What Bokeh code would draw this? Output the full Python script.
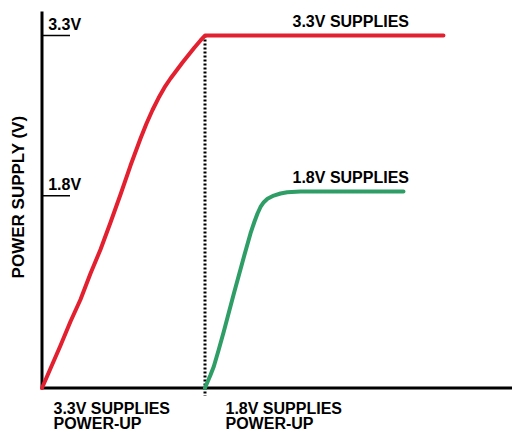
import math
from bokeh.plotting import figure
from bokeh.models import Range1d
from bokeh.core.properties import value
from bokeh.embed import file_html
from bokeh.resources import INLINE

# ---- data (time in arbitrary units, 1.0 = end of the 3.3V ramp; volts) ----
t_red = [0.0, 0.0521, 0.1135, 0.1748, 0.2362, 0.2975, 0.3589, 0.4202, 0.4816,
         0.5429, 0.6043, 0.6411, 0.6779, 0.7147, 0.7515, 0.7883, 0.8252,
         0.8620, 0.8988, 0.9356, 0.9724, 1.0, 2.463]
v_red = [0.0, 0.183, 0.398, 0.623, 0.829, 1.072, 1.297, 1.550, 1.812,
         2.083, 2.336, 2.477, 2.603, 2.715, 2.814, 2.898, 2.973,
         3.048, 3.118, 3.188, 3.254, 3.3, 3.3]

t_green = [1.0, 1.0153, 1.0337, 1.0540, 1.0828, 1.1153, 1.1767, 1.2380, 1.2791,
           1.3037, 1.3221, 1.3405, 1.3607, 1.3834, 1.4221, 1.4632, 1.5043,
           1.5859, 2.2178]
v_green = [0.0, 0.056, 0.122, 0.201, 0.351, 0.529, 0.882, 1.225, 1.447,
           1.559, 1.634, 1.695, 1.740, 1.772, 1.802, 1.821, 1.833,
           1.840, 1.840]

t_switch = 1.0
level_ticks = [3.3, 1.8]
level_labels = ["3.3V", "1.8V"]
series_labels = ["3.3V SUPPLIES", "1.8V SUPPLIES"]
series_label_t = [1.537, 1.537]
series_label_v = [3.3, 1.84]
phase_t = [0.0, 1.0]
phase_line1 = ["3.3V SUPPLIES", "1.8V SUPPLIES"]
phase_line2 = ["POWER-UP", "POWER-UP"]
y_title = "POWER SUPPLY (V)"

# ---- styling / layout ----
FONT = "Liberation Sans"
RED = "#e3202f"
GREEN = "#2e9e66"
W, H = 512, 432
PX_T = 163.0     # pixels per time unit
PX_V = 106.8     # pixels per volt
ORIGIN_X = 41.5  # canvas px of t=0
ORIGIN_Y = 387.5 # canvas px (from top) of V=0
AXIS_TOP = 11.0  # canvas px of top end of the voltage axis
BASE_FIX = 5.5   # baseline correction of the svg text renderer

x0 = -ORIGIN_X / PX_T
x1 = (W - ORIGIN_X) / PX_T
y0 = -(H - ORIGIN_Y) / PX_V
y1 = ORIGIN_Y / PX_V

p = figure(width=W, height=H, output_backend="svg", toolbar_location=None,
           x_range=Range1d(x0, x1), y_range=Range1d(y0, y1),
           x_axis_type=None, y_axis_type=None, min_border=0)
p.outline_line_color = None
p.grid.visible = False


def tx(px):
    return px / PX_T


def vy(px):
    return px / PX_V


# axes (L-shaped)
p.line([0, 0, x1], [vy(ORIGIN_Y - AXIS_TOP), 0, 0], line_color="black",
       line_width=3, line_join="miter")

# level ticks (inward)
p.segment(x0=[0] * len(level_ticks), y0=level_ticks,
          x1=[tx(28)] * len(level_ticks), y1=level_ticks,
          line_color="black", line_width=1.5)

# dotted boundary
p.line([t_switch, t_switch], [v_red[-1], -vy(8)], line_color="black",
       line_width=3, line_dash="2 2")

# curves
p.line(t_red, v_red, line_color=RED, line_width=4, line_join="round",
       line_cap="round")
p.line(t_green, v_green, line_color=GREEN, line_width=4, line_join="round",
       line_cap="round")

common = dict(text_font=value(FONT), text_font_style="bold",
              text_font_size="16px", text_color="black",
              text_baseline="alphabetic", text_align="left")

# level labels
p.text(x=[tx(6.2)] * 2, y=[v + vy(6 + BASE_FIX) for v in level_ticks],
       text=level_labels, **common)

# series labels
p.text(x=series_label_t, y=[v + vy(8.5 + BASE_FIX) for v in series_label_v],
       text=series_labels, **common)

# phase labels below the time axis
dxs = [tx(11.5), tx(20.5)]
p.text(x=[t + d for t, d in zip(phase_t, dxs)],
       y=[-vy(25.5 - BASE_FIX)] * 2, text=phase_line1, **common)
p.text(x=[t + d for t, d in zip(phase_t, dxs)],
       y=[-vy(40.5 - BASE_FIX)] * 2, text=phase_line2, **common)

# y title
p.text(x=[-tx(23.5)], y=[vy(ORIGIN_Y - 196.5)], text=[y_title],
       angle=math.pi / 2, text_font=value(FONT), text_font_style="bold",
       text_font_size="17px", text_color="black", text_baseline="middle",
       text_align="center")

open("out.html", "w").write(file_html(p, INLINE))
